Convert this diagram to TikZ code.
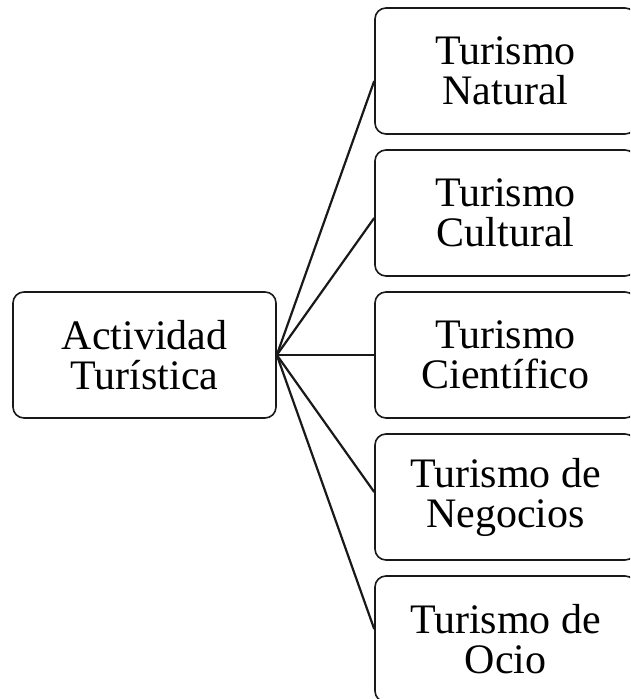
\documentclass[tikz,border=0pt]{standalone}
\usepackage{fontspec}
\setmainfont{Liberation Serif}
\usetikzlibrary{calc}
\begin{document}
\begin{tikzpicture}[x=1pt,y=-1pt,
  box/.style={draw=black!90, line width=1.6pt, rounded corners=11pt, fill=white,
    minimum width=261pt, minimum height=126pt, inner sep=0pt,
    align=center, font=\fontsize{42}{40}\selectfont},
  conn/.style={draw=black!90, line width=2.2pt}]
\useasboundingbox (0,0) rectangle (630,699);
\clip (0,0) rectangle (630,699);
\node[box, minimum width=263pt] (a) at (144.5,355) {Actividad\\Turística};
\node[box] (b1) at (505.5,71) {Turismo\\Natural};
\node[box] (b2) at (505.5,213) {Turismo\\Cultural};
\node[box] (b3) at (505.5,355) {Turismo\\Científico};
\node[box] (b4) at (505.5,497) {Turismo de\\Negocios};
\node[box] (b5) at (505.5,639) {Turismo de\\Ocio};
\draw[conn] (a.east) -- ($(b1.west)+(0,10)$);
\draw[conn] (a.east) -- ($(b2.west)+(0,5)$);
\draw[conn] (a.east) -- (b3.west);
\draw[conn] (a.east) -- ($(b4.west)+(0,-5)$);
\draw[conn] (a.east) -- ($(b5.west)+(0,-10)$);
\end{tikzpicture}
\end{document}
